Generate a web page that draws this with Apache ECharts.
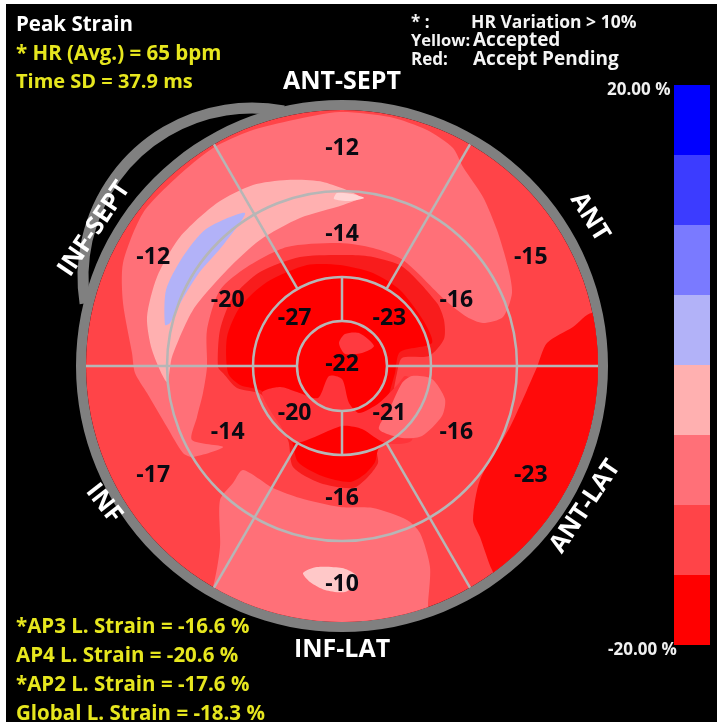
<!DOCTYPE html>
<html>
<head>
<meta charset="utf-8">
<title>Peak Strain</title>
<script src="https://cdn.jsdelivr.net/npm/echarts@6/dist/echarts.min.js"></script>
<style>
  html, body { margin: 0; padding: 0; background: #fff; }
  #chart { width: 717px; height: 722px; }
</style>
</head>
<body>
<div id="chart"></div>
<script>
// segment peak strain, clockwise from the top of each ring
const basalValues = [-12, -15, -23, -10, -17, -12];
const midValues = [-14, -16, -16, -16, -14, -20];
const apicalValues = [-23, -21, -20, -27];
const apexValues = [-22];
const wallNames = ['ANT-SEPT', 'ANT', 'ANT-LAT', 'INF-LAT', 'INF', 'INF-SEPT'];

const scaleTicks = ['20.00 %', '-20.00 %'];
const scaleBands = [17.5, 12.5, 7.5, 2.5, -2.5, -7.5, -12.5, -17.5];
const scaleColors = ['#0000ff', '#3c3cff', '#7a7aff', '#b2b2f8', '#ffb0b0', '#ff7078', '#ff4448', '#ff0000'];

const headerLines = ['Peak Strain', '* HR (Avg.) = 65 bpm', 'Time SD = 37.9 ms'];
const noteLines = [['* :', 'HR Variation > 10%'], ['Yellow:', 'Accepted'], ['Red:', 'Accept Pending']];
const strainLines = ['*AP3 L. Strain = -16.6 %', 'AP4 L. Strain = -20.6 %', '*AP2 L. Strain = -17.6 %', 'Global L. Strain = -18.3 %'];

// contour outlines, as x/y offsets from the centre of the plot
const contourSeptAnt = [[-129, 218], [-92, 235], [-49, 246], [-2, 254], [48, 249], [85, 236], [111, 218], [121, 199], [141, 169], [155, 136], [166, 99], [170, 73], [161, 49], [141, 43], [125, 49], [103, 66], [61, 106], [31, 118], [-2, 123], [-55, 119], [-95, 99], [-122, 76], [-135, 36], [-135, -1], [-139, -27], [-145, -51], [-150, -74], [-119, -81], [-149, -91], [-159, -87], [-175, -61], [-195, -27], [-207, -7], [-210, 13], [-219, 63], [-219, 103], [-199, 153], [-165, 189]];
const contourInfLat = [[-129, -221], [-122, -181], [-122, -134], [-109, -117], [-99, -104], [-69, -122], [-42, -132], [-2, -141], [31, -142], [65, -154], [78, -167], [88, -201], [86, -239], [86, -264], [0, -274], [-92, -264], [-137, -234]];
const contourAntLat = [[250, 53], [231, 39], [205, 23], [195, -1], [185, -24], [168, -61], [138, -114], [131, -154], [138, -171], [150, -204], [168, -234], [238, -154], [283, -54], [283, 36]];
const contourPale = [[18, 169], [-19, 184], [-55, 186], [-89, 181], [-125, 163], [-162, 129], [-185, 89], [-195, 49], [-190, 16], [-175, -16], [-170, 9], [-149, 56], [-115, 96], [-82, 126], [-42, 148], [1, 161]];
const contourBlue = [[-177, 41], [-176, 76], [-160, 108], [-136, 137], [-97, 153], [-118, 122], [-143, 93], [-160, 66], [-172, 43]];
const contourTopSpot = [[-5, 173], [10, 172], [22, 168], [8, 165], [-8, 167]];
const contourLowSpot = [[-39, -207], [-25, -201], [0, -202], [13, -208], [16, -216], [3, -226], [-17, -224], [-32, -216]];
const contourApexOuter = [[8, 111], [31, 109], [61, 99], [95, 63], [102, 46], [102, 27], [87, 10], [60, 8], [55, -7], [50, -34], [43, -76], [35, -84], [36, -97], [25, -112], [11, -122], [-22, -117], [-49, -101], [-54, -74], [-80, -29], [-105, -22], [-119, -7], [-124, -1], [-122, 36], [-109, 69], [-82, 94], [-42, 109]];
const contourApexInner = [[-2, 101], [31, 93], [58, 76], [81, 46], [90, 23], [58, 14], [53, -7], [46, -34], [43, -76], [36, -84], [33, -96], [23, -108], [8, -116], [-20, -110], [-44, -96], [-50, -76], [-79, -26], [-102, -19], [-114, -7], [-115, 29], [-102, 59], [-75, 84], [-35, 101]];
const contourApexLow = [[-80, -27], [-62, -21], [-45, -26], [-24, -32], [-13, -10], [0, -13], [7, -37], [17, -47], [37, -37], [57, -17], [63, -10], [70, -14], [70, -74], [43, -77], [20, -63], [0, -60], [-47, -77], [-62, -59]];
const contourApexTop = [[-3, 23], [3, 32], [17, 33], [32, 20], [20, 13], [3, 12]];
const contourLatBlob = [[60, -17], [70, -10], [90, -13], [103, -33], [100, -50], [80, -70], [60, -72], [37, -63], [48, -42]];

// painted in this order, later ones on top
const contours = [
    [contourSeptAnt, '#ff7078'],
    [contourInfLat, '#ff7078'],
    [contourAntLat, '#ff0a0a'],
    [contourPale, '#ffb0b0'],
    [contourBlue, '#b2b2f8'],
    [contourTopSpot, '#ffd4d4'],
    [contourLowSpot, '#ffc8c8'],
    [contourApexOuter, '#f81c1c'],
    [contourApexInner, '#ff0000'],
    [contourApexLow, '#ff343a'],
    [contourApexTop, '#ff3a40'],
    [contourLatBlob, '#ff6e74'],
];

const plotCenter = [342, 366];
const discRadius = 256;
const ringRadii = [45, 89, 175];
const crossSpokes = [0, 90, 180, 270];
const wallSpokes = [30, 90, 150, 210, 270, 330];
const lineColor = '#b6b6b6';
const yellow = '#e6e61e';
const fontName = '"Open Sans", sans-serif';

function valuePoints(values, radius, start) {
    const step = 360 / values.length;
    return values.map((v, i) => ({ value: [radius, start + i * step], label: { formatter: String(v) } }));
}

function renderContour(params, api) {
    const [pts, color] = contours[params.dataIndex];
    const c = api.coord([0, 0]);
    const edge = api.coord([discRadius, 0]);
    return {
        type: 'polygon',
        shape: { points: pts.map((p) => api.coord(p)), smooth: 0.25 },
        style: { fill: color, stroke: null },
        clipPath: { type: 'circle', shape: { cx: c[0], cy: c[1], r: edge[0] - c[0] } },
    };
}

function renderRing(params, api) {
    const c = api.coord([0, 0]);
    const p = api.coord([ringRadii[params.dataIndex], 90]);
    return {
        type: 'circle',
        shape: { cx: c[0], cy: c[1], r: Math.hypot(p[0] - c[0], p[1] - c[1]) },
        style: { fill: null, stroke: lineColor, lineWidth: 2.5 },
    };
}

function renderSpoke(params, api) {
    const a = api.coord([api.value(0), api.value(2)]);
    const b = api.coord([api.value(1), api.value(2)]);
    return {
        type: 'line',
        shape: { x1: a[0], y1: a[1], x2: b[0], y2: b[1] },
        style: { stroke: lineColor, lineWidth: 2.5 },
    };
}

// the gray bulge over the INF-SEPT wall
function renderBulge(params, api) {
    const c = api.coord([-90, 89]);
    const p = api.coord([79, 89]);
    return {
        type: 'arc',
        shape: { cx: c[0], cy: c[1], r: p[0] - c[0], startAngle: Math.PI * 0.95, endAngle: Math.PI * 1.56, clockwise: true },
        style: { fill: null, stroke: '#808080', lineWidth: 11 },
    };
}

function textItem(text, x, y, color, size) {
    return {
        type: 'text', x, y, z: 20,
        style: { text, fill: color, font: `bold ${size}px ${fontName}`, verticalAlign: 'middle' },
    };
}

const graphics = [
    { type: 'rect', z: -10, shape: { x: 6, y: 4, width: 711, height: 718 }, style: { fill: '#000' } },
    textItem(headerLines[0], 16, 25, '#ffffff', 20.5),
    textItem(headerLines[1], 16, 54, yellow, 20.5),
    textItem(headerLines[2], 16, 82, yellow, 20),
    textItem(noteLines[0][0], 411, 23, '#f4f4f4', 17),
    textItem(noteLines[0][1], 471, 23, '#f4f4f4', 17.5),
    textItem(noteLines[1][0], 411, 41, '#f4f4f4', 16.5),
    textItem(noteLines[1][1], 473, 41, '#f4f4f4', 19),
    textItem(noteLines[2][0], 411, 60, '#f4f4f4', 17),
    textItem(noteLines[2][1], 473, 60, '#f4f4f4', 19),
    textItem(scaleTicks[0], 607, 90, '#f0f0f0', 17),
    textItem(scaleTicks[1], 608, 650, '#f0f0f0', 17),
];
strainLines.forEach((line, i) => graphics.push(textItem(line, 16, 627 + i * 29, yellow, 20.5)));

const wallLabels = [
    { value: [284, 0], rotate: 0 },
    { value: [289, 59], rotate: -58 },
    { value: [281, 120], rotate: 56 },
    { value: [284, 180], rotate: 0 },
    { value: [275, 240], rotate: -52 },
    { value: [283, 299], rotate: 56 },
].map((d, i) => ({
    value: d.value,
    label: { formatter: wallNames[i], rotate: d.rotate },
}));

const chart = echarts.init(document.getElementById('chart'), null, { renderer: 'canvas' });
chart.setOption({
    animation: false,
    backgroundColor: '#fff',
    graphic: graphics,
    polar: { center: plotCenter, radius: 300 },
    angleAxis: { type: 'value', min: 0, max: 360, startAngle: 90, show: false },
    radiusAxis: { type: 'value', min: 0, max: 300, show: false },
    grid: [
        { left: plotCenter[0] - 300, top: plotCenter[1] - 300, width: 600, height: 600 },
        { left: 674, top: 85, width: 36, height: 560 },
    ],
    xAxis: [
        { type: 'value', gridIndex: 0, min: -300, max: 300, show: false },
        { type: 'value', gridIndex: 1, min: 0, max: 1, show: false },
    ],
    yAxis: [
        { type: 'value', gridIndex: 0, min: -300, max: 300, show: false },
        { type: 'category', gridIndex: 1, inverse: true, data: scaleBands, show: false },
    ],
    series: [
        {
            type: 'custom', coordinateSystem: 'cartesian2d', xAxisIndex: 0, yAxisIndex: 0, z: 1, silent: true, clip: false,
            data: [[0, 0]], renderItem: renderBulge,
        },
        {
            type: 'pie', center: plotCenter, radius: [discRadius, discRadius + 10], z: 2, silent: true,
            label: { show: false }, labelLine: { show: false }, itemStyle: { color: '#808080' }, data: [{ value: 1 }],
        },
        {
            type: 'pie', center: plotCenter, radius: [0, discRadius], z: 2, silent: true,
            label: { show: false }, labelLine: { show: false }, itemStyle: { color: '#ff4448' }, data: [{ value: 1 }],
        },
        {
            type: 'custom', coordinateSystem: 'cartesian2d', xAxisIndex: 0, yAxisIndex: 0, z: 3, silent: true, clip: false,
            data: contours.map(() => [0, 0]), renderItem: renderContour,
        },
        {
            type: 'custom', coordinateSystem: 'polar', z: 4, silent: true,
            data: ringRadii.map((r) => [r, 90]), renderItem: renderRing,
        },
        {
            type: 'custom', coordinateSystem: 'polar', z: 4, silent: true,
            encode: { radius: 0, angle: 2 },
            data: crossSpokes.map((a) => [ringRadii[0], ringRadii[1], a])
                .concat(wallSpokes.map((a) => [ringRadii[1], discRadius, a])),
            renderItem: renderSpoke,
        },
        {
            type: 'scatter', coordinateSystem: 'polar', z: 5, symbolSize: 1, silent: true,
            itemStyle: { color: 'transparent', opacity: 1 },
            label: {
                show: true, position: 'inside', color: '#0a0a12', fontSize: 23, fontWeight: 'bold', fontFamily: fontName,
            },
            data: [
                ...valuePoints(basalValues, 218, 0),
                ...valuePoints(midValues, 132, 0),
                ...valuePoints(apicalValues, 67, 45),
                ...valuePoints(apexValues, 2, 0),
            ],
        },
        {
            type: 'scatter', coordinateSystem: 'polar', z: 5, symbolSize: 1, silent: true,
            itemStyle: { color: 'transparent', opacity: 1 },
            label: {
                show: true, position: 'inside', color: '#ffffff', fontSize: 25, fontWeight: 'bold', fontFamily: fontName,
            },
            data: wallLabels,
        },
        {
            type: 'bar', xAxisIndex: 1, yAxisIndex: 1, barWidth: '100%', z: 2, silent: true,
            data: scaleBands.map((b, i) => ({ value: 1, itemStyle: { color: scaleColors[i] } })),
        },
    ],
});
window.addEventListener('resize', () => chart.resize());
</script>
</body>
</html>
